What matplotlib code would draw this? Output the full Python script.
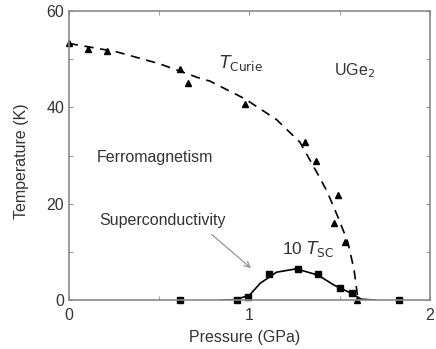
import matplotlib.pyplot as plt
from matplotlib.ticker import MultipleLocator

# T_Curie data (triangles)
curie_p = [0.0, 0.105, 0.21, 0.615, 0.66, 0.975, 1.307, 1.37, 1.49, 1.47, 1.53, 1.595]
curie_t = [53.3, 52.2, 51.8, 47.9, 45.0, 40.8, 32.8, 28.9, 21.9, 16.1, 12.1, 0.0]

# guide line through T_Curie (dashed)
curie_fit_p = [0.0, 0.26, 0.5, 0.73, 0.78, 0.975, 1.15, 1.28, 1.38, 1.43, 1.49, 1.545, 1.58, 1.6, 1.61]
curie_fit_t = [53.3, 51.6, 49.1, 46.0, 45.5, 41.8, 37.5, 32.8, 26.1, 22.6, 17.3, 12.1, 6.3, 0.6, 0.0]

# 10 x T_SC data (squares)
sc_p = [0.615, 0.93, 0.99, 1.11, 1.27, 1.38, 1.50, 1.57, 1.83]
sc_t = [0.0, 0.0, 0.6, 5.4, 6.4, 5.4, 2.5, 1.5, 0.0]

# guide line through 10 T_SC (solid)
sc_fit_p = [0.84, 0.92, 1.0, 1.06, 1.15, 1.26, 1.38, 1.47, 1.56, 1.62, 1.70]
sc_fit_t = [0.0, 0.1, 1.0, 3.5, 5.8, 6.5, 5.2, 3.1, 1.5, 0.2, 0.0]

plt.rcParams['font.family'] = ['Liberation Sans', 'DejaVu Sans']
txt = '#333333'
grey = '#8a8a8a'
fs = 11.5

fig = plt.figure(figsize=(4.36, 3.49), dpi=100)
ax = fig.add_axes([0.158, 0.14, 0.828, 0.828])

ax.plot(curie_fit_p, curie_fit_t, color='black', lw=1.2, dashes=(5.5, 4))
ax.plot(sc_fit_p, sc_fit_t, color='black', lw=1.2)
ax.plot(curie_p, curie_t, '^', color='black', ms=4.8, clip_on=False)
ax.plot(sc_p, sc_t, 's', color='black', ms=5, clip_on=False)

ax.set_xlim(0, 2)
ax.set_ylim(0, 60)
ax.xaxis.set_major_locator(MultipleLocator(1))
ax.xaxis.set_minor_locator(MultipleLocator(0.5))
ax.yaxis.set_major_locator(MultipleLocator(20))
ax.yaxis.set_minor_locator(MultipleLocator(10))
ax.tick_params(which='both', direction='in', top=True, right=True,
               length=3, color=grey, labelcolor=txt, labelsize=fs)
ax.tick_params(axis='x', pad=6)
for s in ax.spines.values():
    s.set_color(grey)
    s.set_linewidth(1.2)

ax.set_xlabel('Pressure (GPa)', color=txt, fontsize=fs)
ax.set_ylabel('Temperature (K)', color=txt, fontsize=fs)
ax.xaxis.set_label_coords(0.486, -0.105)
ax.yaxis.set_label_coords(-0.11, 0.48)

ax.text(0.83, 48.3, r'$T_{\mathrm{Curie}}$', color=txt, fontsize=12.5)
ax.text(1.47, 46.6, r'UGe$_2$', color=txt, fontsize=fs)
ax.text(0.155, 28.6, 'Ferromagnetism', color=txt, fontsize=fs)
ax.text(0.17, 15.7, 'Superconductivity', color=txt, fontsize=fs)
ax.text(1.18, 9.5, r'10 $T_{\mathrm{SC}}$', color=txt, fontsize=12.5)
ax.annotate('', xy=(1.02, 6.3), xytext=(0.78, 14.0),
            arrowprops=dict(arrowstyle='->', color=grey, lw=0.8))

fig.savefig('out.png', dpi=100)
